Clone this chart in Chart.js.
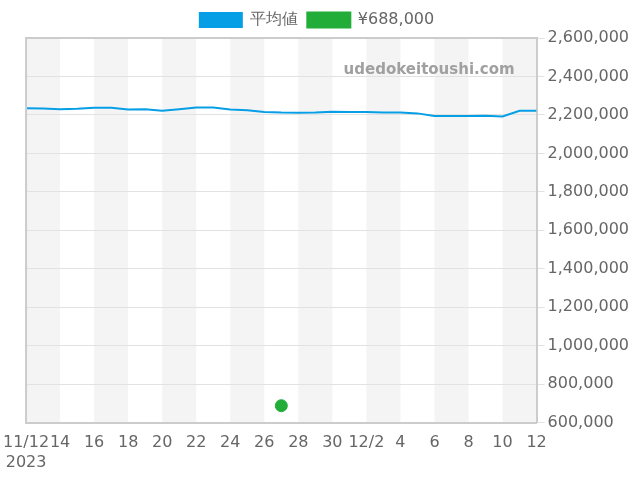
<!DOCTYPE html>
<html><head><meta charset="utf-8">
<script src="https://cdn.jsdelivr.net/npm/chart.js@4"></script>
<style>body{margin:0;background:#fff}#wrap{width:640px;height:480px}</style>
</head><body><div id="wrap"><canvas id="c"></canvas></div>
<script>
// 日付 (11/12 からの日数) と平均値
const days = ['11/12','11/13','11/14','11/15','11/16','11/17','11/18','11/19','11/20','11/21','11/22','11/23','11/24','11/25','11/26','11/27','11/28','11/29','11/30','12/1','12/2','12/3','12/4','12/5','12/6','12/7','12/8','12/9','12/10','12/11','12/12'];
const avgValues = [2235000,2233000,2230000,2232000,2237000,2237000,2228000,2230000,2222000,2230000,2238000,2238000,2228000,2224000,2215000,2212000,2211000,2212000,2217000,2215000,2215000,2213000,2213000,2208000,2195000,2194000,2195000,2196000,2192000,2222000,2222000];
const priceDay = 15; // 11/27
const priceValue = 688000;
const tickLabels = {0:['11/12','2023'],2:'14',4:'16',6:'18',8:'20',10:'22',12:'24',14:'26',16:'28',18:'30',20:'12/2',22:'4',24:'6',26:'8',28:'10',30:'12'};

const stripes = {
  id: 'stripes',
  beforeDraw(chart) {
    const {ctx, chartArea: a, scales: {x}} = chart;
    ctx.save();
    ctx.fillStyle = '#f4f4f4';
    for (let d = 0; d < 30; d += 4) {
      const x0 = x.getPixelForValue(d), x1 = x.getPixelForValue(Math.min(d + 2, 30));
      ctx.fillRect(x0, a.top, x1 - x0, a.bottom - a.top);
    }
    ctx.font = 'bold 15px "DejaVu Sans"';
    ctx.fillStyle = '#a0a0a0';
    ctx.textAlign = 'right';
    ctx.fillText('udedokeitoushi.com', a.right - 22, a.top + 32);
    ctx.restore();
  },
  afterDraw(chart) {
    const {ctx, chartArea: a} = chart;
    ctx.save();
    ctx.strokeStyle = '#ccc';
    ctx.lineWidth = 2;
    ctx.beginPath();
    ctx.moveTo(a.left, a.bottom); ctx.lineTo(a.left, a.top); ctx.lineTo(a.right, a.top);
    ctx.stroke();
    ctx.restore();
  }
};

new Chart(document.getElementById('c'), {
  type: 'line',
  data: {
    datasets: [
      { label: '平均値', data: avgValues.map((v, i) => ({x: i, y: v})), borderColor: '#069fe6', backgroundColor: '#069fe6', borderWidth: 2, pointRadius: 0, tension: 0 },
      { label: '¥688,000', data: [{x: priceDay, y: priceValue}], borderColor: '#22ad39', backgroundColor: '#22ad39', pointRadius: 6, showLine: false }
    ]
  },
  options: {
    responsive: true, maintainAspectRatio: false, animation: false,
    layout: { padding: { left: 2, right: 8, top: 2, bottom: 5 } },
    plugins: {
      legend: { labels: { boxWidth: 42, boxHeight: 14, font: { size: 16, family: '"DejaVu Sans"' }, color: '#666' } },
      tooltip: { enabled: false }
    },
    scales: {
      x: { type: 'linear', min: 0, max: 30,
        grid: { display: false }, border: { color: '#ccc', width: 2 },
        ticks: { stepSize: 2, autoSkip: false, maxRotation: 0, color: '#666', font: { size: 16, family: '"DejaVu Sans"' },
          callback: v => tickLabels[v] } },
      y: { position: 'right', min: 600000, max: 2600000,
        grid: { color: '#e2e2e2' }, border: { color: '#ccc', width: 2 },
        ticks: { stepSize: 200000, color: '#666', font: { size: 16, family: '"DejaVu Sans"' },
          callback: v => v.toLocaleString('en-US') } }
    }
  },
  plugins: [stripes]
});
</script></body></html>
